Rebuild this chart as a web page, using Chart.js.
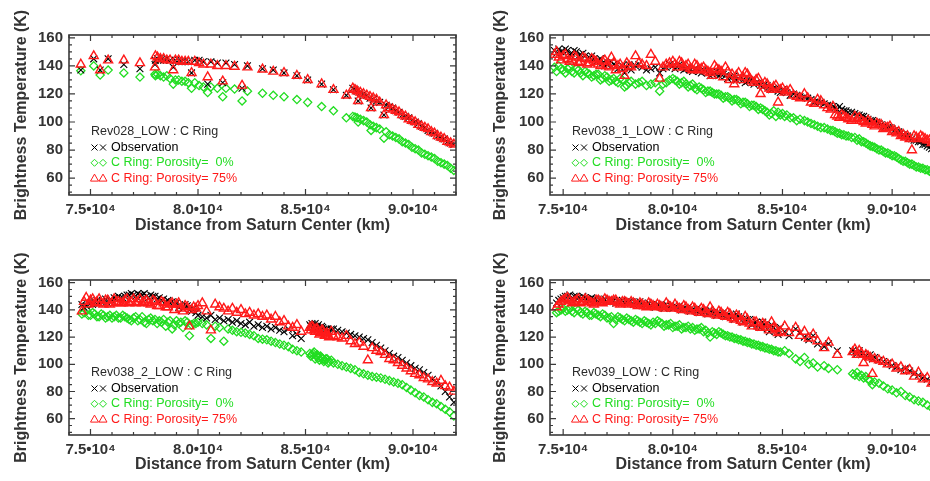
<!DOCTYPE html>
<html>
<head>
<meta charset="utf-8">
<script src="https://cdn.jsdelivr.net/npm/chart.js@4.4.1/dist/chart.umd.min.js"></script>
<style>
  html, body { margin: 0; padding: 0; background: #fff; overflow: hidden; width: 930px; height: 481px; }
  canvas { position: absolute; }
</style>
</head>
<body>
<canvas id="c1"></canvas>
<canvas id="c2"></canvas>
<canvas id="c3"></canvas>
<canvas id="c4"></canvas>
<script>
// axis ticks
const xMajor = [75000, 80000, 85000, 90000];
const xTickLabels = ['7.5•10⁴', '8.0•10⁴', '8.5•10⁴', '9.0•10⁴'];
const yMajor = [60, 80, 100, 120, 140, 160];
const seriesNames = ['Observation', 'C Ring: Porosity=  0%', 'C Ring: Porosity= 75%'];

// Rev028
const rev028X = [74550, 75150, 75450, 75820, 76550, 77300, 78000, 78020, 78120, 78250, 78400, 78550, 78700, 78850, 78950, 79100, 79250, 79400, 79550, 79700, 79850, 80050, 80250, 80450, 80600, 80900, 81150, 81300, 81700, 82050, 82300, 83000, 83500, 84000, 84600, 85100, 85750, 86300, 86900, 87200, 87300, 87400, 87450, 87550, 87700, 87850, 88000, 88050, 88150, 88300, 88450, 88650, 88750, 88900, 89050, 89200, 89350, 89500, 89650, 89800, 89950, 90100, 90250, 90400, 90550, 90700, 90850, 91000, 91150, 91300, 91450, 91600, 91750, 91900];
const rev028Obs = [137, 145, 137, 145, 141, 138, 141, 144, 145, 144, 144, 145, 144, 139, 144, 144, 143, 143, 143, 135, 144, 144, 143, 127, 143, 142, 128, 142, 141, 124, 140, 138, 137, 135, 133, 130, 127, 123, 119, 124, 123, 122, 115, 121, 120, 119, 117, 110, 116, 115, 114, 105, 112, 111, 110, 108, 107, 105, 104, 103, 101, 100, 99, 97, 96, 94, 93, 92, 90, 89, 88, 86, 85, 84];
const rev028P0 = [136.5, 140, 133.5, 137, 135, 132, 134, 133, 134, 133, 132, 133, 131, 127, 130, 130, 129, 129, 128, 124, 128, 126, 125, 121, 125, 124, 118, 124, 123.5, 115, 122, 120.5, 119, 118, 116, 114, 111, 108, 103, 104, 103.5, 103, 100, 102, 101, 100, 98, 94, 97, 96, 95, 88.5, 93, 91, 90, 89, 88, 86, 85, 84, 82, 81, 80, 78, 77, 76, 75, 74, 72, 71, 70, 69, 67, 65.5];
const rev028P75 = [141, 147, 137, 144, 144, 142, 139, 147, 146, 145, 145, 144, 144, 137, 144, 144, 143, 143, 143, 135, 143, 142, 141, 132, 141, 140, 129, 140, 139.5, 126, 139, 137.5, 136, 135, 133, 130, 127, 123, 119, 124, 123, 122, 115, 121, 120, 119, 118, 110, 117, 116, 114, 105, 112, 110, 109, 108, 107, 105, 104, 102, 101, 100, 98, 97, 96, 95, 93, 92, 90, 89, 88, 86, 85, 84];

// Rev038_1
const rev038aX = [74600, 74800, 75000, 75200, 75400, 75600, 75800, 76000, 76200, 76400, 76600, 76800, 77000, 77200, 77400, 77600, 77800, 78000, 78300, 78600, 79000, 79400, 79700, 80000, 80200, 80400, 80600, 80800, 81000, 81200, 81400, 81600, 81800, 82000, 82200, 82400, 82600, 82800, 83000, 83200, 83400, 83600, 83800, 84000, 84200, 84400, 84600, 84800, 85000, 85200, 85500, 85800, 86000, 86300, 86600, 86900, 87200, 87400, 87600, 87800, 88000, 88300, 88500, 88700, 88900, 89100, 89300, 89500, 89700, 89900, 90100, 90300, 90500, 90700, 90900, 91100, 91300, 91500, 91700, 91900,
  74700, 74900, 75100, 75300, 75500, 75700, 75900, 76100, 76300, 76500, 76700, 76900, 77100, 77300, 77500, 77700, 77900, 78100, 78450, 78800, 79200, 79550, 79850, 80100, 80300, 80500, 80700, 80900, 81100, 81300, 81500, 81700, 81900, 82100, 82300, 82500, 82700, 82900, 83100, 83300, 83500, 83700, 83900, 84100, 84300, 84500, 84700, 84900, 85100, 85350, 85650, 86150, 86450, 86750, 87050, 87300, 87500, 87700, 87900, 88150, 88400, 88600, 88800, 89000, 89200, 89400, 89600, 89800, 90000, 90200, 90400, 90600, 90800, 91000, 91200, 91400, 91600, 91800];
const rev038aObs = [151, 152, 150, 151, 149, 150, 148, 147, 146, 145, 144, 142, 141, 143, 140, 139, 135, 141, 140, 139, 138, 135, 139, 140, 139, 140, 138, 137, 138, 136, 137, 135, 134, 136, 134, 133, 132, 133, 131, 130, 129, 130, 128, 126, 127, 125, 124, 122, 123, 121, 120, 118, 118, 116, 115, 113, 112, 110, 111, 108, 107, 106, 105, 104, 102, 101, 100, 98, 97, 96, 94, 93, 91, 90, 88, 87, 86, 84, 82, 80,
  149, 150, 152, 148, 151, 147, 149, 145, 147, 143, 145, 140, 142, 141, 138, 140, 139, 137, 141, 137, 139, 138, 141, 138, 141, 137, 139, 136, 137, 135, 136, 133, 135, 133, 134, 131, 132, 130, 132, 128, 130, 127, 128, 125, 126, 123, 124, 121, 122, 119, 119, 117, 114, 114, 112, 111, 109, 109, 108, 107, 105, 104, 103, 101, 100, 99, 97, 96, 95, 93, 92, 90, 89, 87, 86, 84, 83, 81];
const rev038aP0 = [139, 140, 137, 138, 136, 138, 135, 136, 134, 133, 134, 131, 132, 130, 129, 131, 125, 128, 127, 129, 127, 122, 128, 131, 129, 128, 127, 126, 124, 125, 123, 122, 121, 120, 119, 118, 117, 116, 115, 114, 113, 112, 111, 110, 108, 105, 108, 107, 106, 105, 103, 102, 101, 99, 97, 96, 94, 93, 92, 91, 90, 89, 88, 86, 84, 82.5, 81, 80, 78, 77, 76, 74, 72, 71, 70, 68, 67, 66, 65, 64,
  136, 138, 135, 139, 135, 137, 133, 135, 132, 134, 130, 133, 129, 131, 128, 130, 126, 129, 128, 126, 128, 127, 130, 130, 127, 129, 125, 127, 123, 124, 121, 122, 120, 120, 117, 118, 115, 116, 113, 114, 111, 112, 109, 109, 107, 106, 104, 105, 104, 103, 101, 100, 98, 96, 95, 94, 92, 91, 90, 89, 87, 86, 85, 83, 82, 80, 79, 78, 76, 75, 73, 72, 70, 69, 68, 67, 66, 64];
const rev038aP75 = [148, 146, 147, 145, 144, 146, 143, 145, 142, 144, 141, 143, 140, 146, 137, 141, 133, 140, 147, 141, 148, 131, 141, 143, 139, 142, 140, 138, 141, 137, 139, 136, 133, 138, 136, 139, 130, 127, 135, 132, 134, 129, 130, 120, 128, 124, 125, 114, 124, 122, 119, 117, 120, 114, 116, 112, 109, 105, 103, 104, 102, 104, 103, 100, 101, 98, 99, 98, 96, 97, 94, 93, 91, 90, 80, 89, 90, 88, 87, 86,
  150, 144, 148, 143, 147, 142, 146, 141, 145, 143, 140, 144, 139, 142, 140, 138, 142, 139, 142, 140, 143, 139, 142, 141, 143, 139, 141, 137, 140, 138, 137, 135, 140, 137, 132, 136, 134, 133, 130, 135, 131, 128, 131, 126, 127, 123, 126, 123, 121, 123, 118, 117, 113, 115, 110, 111, 104, 105, 103, 101, 102, 101, 99, 100, 97, 98, 95, 96, 93, 92, 90, 89, 88, 90, 88, 89, 87, 85];

// Rev038_2
const rev038bX = [74600, 74800, 75000, 75200, 75400, 75600, 75800, 76000, 76200, 76400, 76600, 76800, 77000, 77200, 77400, 77600, 77800, 78000, 78200, 78400, 78600, 78800, 79000, 79200, 79400, 79600, 79800, 80000, 80200, 80400, 80600, 80800, 81000, 81200, 81400, 81600, 81800, 82000, 82200, 82400, 82600, 82800, 83000, 83200, 83400, 83600, 83800, 84000, 84200, 84400, 84600, 84800, 85200, 85300, 85400, 85500, 85600, 85700, 85800, 85900, 86000, 86100, 86300, 86500, 86700, 86900, 87100, 87300, 87500, 87700, 87900, 88100, 88300, 88500, 88700, 88900, 89100, 89300, 89500, 89700, 89900, 90100, 90300, 90500, 90700, 90900, 91100, 91300, 91500, 91700, 91900,
  74700, 74900, 75100, 75300, 75500, 75700, 75900, 76100, 76300, 76500, 76700, 76900, 77100, 77300, 77500, 77700, 77900, 78100, 78300, 78500, 78700, 78900, 79100, 79300, 79500, 79700, 79900, 85250, 85350, 85450, 85550, 85650, 85750, 85850, 85950, 86050, 86200];
const rev038bObs = [144, 143, 145, 146, 145, 146, 145, 147, 148, 149, 150, 151, 151, 152, 151, 150, 151, 150, 149, 148, 147, 146, 145, 143, 144, 140, 141, 136, 135, 134, 136, 133, 134, 132, 133, 131, 132, 130, 129, 131, 128, 129, 127, 128, 126, 127, 125, 124, 126, 121, 122, 119, 129, 130, 128, 127, 129, 126, 127, 125, 126, 124, 126, 125, 124, 123, 122, 121, 120, 119, 118, 116, 114, 112, 110, 108, 106, 105, 103, 101, 99, 97, 96, 94, 92, 89, 87, 84, 80, 76, 72,
  142, 145, 144, 147, 146, 148, 147, 149, 150, 149, 151, 152, 150, 151, 152, 149, 150, 148, 147, 146, 145, 144, 142, 141, 143, 139, 138, 128, 127, 130, 128, 127, 128, 126, 126, 125, 126];
const rev038bP0 = [137, 140, 136, 137, 135, 136, 135, 134, 136, 134, 135, 133, 134, 132, 135, 130, 134, 133, 132, 133, 131, 126, 132, 131, 132, 121, 130, 131, 130, 129, 119, 128, 127, 117, 126, 125, 124, 123.5, 123, 122, 121, 119, 118.5, 118, 117, 116, 115, 114, 113, 111, 110, 109, 108, 107, 109, 106, 105, 106, 104, 103, 104, 102, 101, 100, 99, 98, 97, 96, 94, 93, 92, 91, 90.5, 90, 89, 88, 87, 86, 85, 83, 81, 79, 77, 76, 74, 72, 71, 69, 67, 65, 62,
  138, 136, 138, 135, 137, 134, 136, 135, 134, 136, 134, 132, 135, 133, 131, 133, 132, 130, 131, 128, 132, 129, 130, 127, 131, 129, 130, 106, 108, 104, 107, 103, 105, 102, 104, 101, 103];
const rev038bP75 = [139, 149, 147, 145, 148, 144, 147, 145, 146, 145, 147, 145, 148, 146, 145, 147, 144, 146, 143, 145, 142, 145, 144, 141, 143, 128, 142, 143, 145, 139, 125, 144, 142, 141, 139, 141, 138, 140, 137, 138, 136, 137, 135, 136, 133, 135, 131, 132, 128, 127, 129, 124, 127, 128, 125, 126, 124, 123, 125, 121, 123, 120, 121, 120, 119, 121, 117, 115, 116, 113, 103, 112, 110, 109, 107, 104, 103, 101, 99, 97, 95, 93, 92, 90, 89, 87, 86, 88, 84, 83, 80,
  146, 144, 148, 146, 145, 147, 144, 148, 146, 145, 148, 146, 145, 148, 146, 145, 147, 143, 146, 142, 144, 140, 145, 139, 142, 140, 141, 125, 127, 124, 126, 122, 125, 123, 122, 121, 124];

// Rev039
const rev039X = [74700, 74900, 75100, 75300, 75500, 75700, 75900, 76100, 76300, 76500, 76700, 76900, 77100, 77300, 77500, 77700, 77900, 78100, 78300, 78500, 78700, 78900, 79100, 79300, 79500, 79700, 79900, 80100, 80300, 80500, 80700, 80900, 81100, 81300, 81500, 81700, 81900, 82100, 82300, 82500, 82700, 82900, 83100, 83300, 83500, 83700, 83900, 84100, 84300, 84500, 84700, 84900, 85100, 85300, 85600, 85800, 86000, 86200, 86400, 86600, 86900, 87100, 87500, 88200, 88300, 88400, 88500, 88600, 88700, 88800, 88900, 89000, 89100, 89200, 89400, 89600, 89800, 90000, 90200, 90400, 90600, 90800, 91000, 91200, 91400, 91600, 91800, 91900,
  74800, 75000, 75200, 75400, 75600, 75800, 76000, 76200, 76400, 76600, 76800, 77000, 77200, 77400, 77600, 77800, 78000, 78200, 78400, 78600, 78800, 79000, 79200, 79400, 79600, 79800, 80000, 80200, 80400, 80600, 80800, 81000, 81200, 81400, 81600, 81800, 82000, 82200, 82400, 82600, 82800, 83000, 83200, 83400, 83600, 83800, 84000, 84200, 84400, 84600, 84800];
const rev039Obs = [145, 148, 150, 151, 150, 149, 150, 148, 149, 148, 147, 148, 147, 147, 146, 147, 146, 146, 145, 146, 144, 145, 144, 144, 143, 144, 143, 142, 143, 141, 142, 140, 141, 140, 139, 140, 138, 137, 138, 136, 135, 137, 134, 132, 133, 130, 128, 131, 126, 129, 125, 127, 124, 121, 126, 123, 120, 118, 121, 115, 113, 115, 110, 110, 109, 108, 110, 107, 108, 106, 105, 107, 104, 105, 103, 102, 101, 99, 98, 96, 97, 95, 93, 92, 90, 89, 87, 86,
  147, 149, 150, 148, 150, 148, 149, 147, 148, 146, 147, 146, 147, 145, 146, 145, 146, 144, 145, 143, 144, 143, 142, 143, 141, 142, 141, 142, 140, 141, 139, 140, 138, 139, 137, 138, 136, 137, 135, 136, 133, 135, 131, 133, 129, 131, 127, 129, 124, 127, 122];
const rev039P0 = [138, 140, 139, 141, 138, 140, 137, 138, 136, 137, 135, 136, 134, 130, 135, 133, 134, 132, 133, 131, 132, 130, 131, 132, 130, 129, 130, 128, 129, 127, 128, 127, 126, 127, 125, 120, 123, 124, 122, 121, 120, 119, 118, 117, 116, 115, 114, 113, 112, 111, 110, 109, 110, 108, 104, 102, 105, 100, 101, 98, 99, 97, 96, 93, 92, 94, 91, 92, 90, 91, 89, 88, 85, 87, 86, 84, 82, 81, 79, 80, 77, 76, 74, 73, 72, 70, 68, 67,
  139, 141, 140, 139, 141, 138, 139, 136, 138, 136, 137, 134, 135, 133, 134, 132, 133, 131, 132, 130, 131, 129, 130, 131, 128, 129, 127, 128, 126, 127, 126, 125, 126, 124, 123, 124, 122, 123, 121, 120, 119, 118, 117, 116, 115, 114, 113, 112, 111, 110, 109];
const rev039P75 = [142, 146, 148, 147, 146, 148, 146, 147, 145, 147, 146, 148, 146, 147, 145, 146, 145, 146, 144, 145, 143, 145, 143, 144, 142, 145, 142, 144, 141, 143, 140, 142, 139, 141, 138, 142, 137, 139, 136, 138, 134, 136, 132, 135, 130, 131, 128, 130, 127, 131, 126, 124, 128, 123, 127, 121, 124, 119, 122, 117, 112, 116, 107, 109, 111, 107, 110, 108, 101, 107, 106, 105, 93, 104, 103, 102, 100, 100, 97, 98, 95, 96, 91, 94, 89, 90, 86, 88,
  144, 147, 149, 145, 147, 145, 148, 146, 144, 147, 145, 147, 146, 147, 144, 146, 144, 145, 143, 144, 142, 144, 142, 143, 141, 143, 141, 142, 140, 142, 139, 141, 138, 140, 137, 139, 136, 138, 135, 137, 133, 135, 131, 133, 128, 131, 127, 129, 125, 127, 123];

const axisColor = '#3a3a3a';
const fontFamily = '"Liberation Sans", Arial, Helvetica, sans-serif';
const obsColor = '#000000';
const p0Color = '#22dd22';
const p75Color = '#ff1a1a';

const panels = [
  { id: 'c1', left: 0, top: 0, width: 465, height: 240, padTop: 35, padRight: 9, yWidth: 69, xHeight: 45, xMin: 74000,
    name: 'Rev028_LOW : C Ring', x: rev028X, obs: rev028Obs, p0: rev028P0, p75: rev028P75, legendX: 91, legendY: 131.5, yTitlePad: 12, xTitlePad: 5 },
  { id: 'c2', left: 465, top: 0, width: 480, height: 240, padTop: 35, padRight: 9, yWidth: 85, xHeight: 45, xMin: 74400,
    name: 'Rev038_1_LOW : C Ring', x: rev038aX, obs: rev038aObs, p0: rev038aP0, p75: rev038aP75, legendX: 107, legendY: 131.5, yTitlePad: 26, xTitlePad: 5 },
  { id: 'c3', left: 0, top: 240, width: 465, height: 241, padTop: 40, padRight: 9, yWidth: 69, xHeight: 46, xMin: 74000,
    name: 'Rev038_2_LOW : C Ring', x: rev038bX, obs: rev038bObs, p0: rev038bP0, p75: rev038bP75, legendX: 91, legendY: 132.5, yTitlePad: 12, xTitlePad: 7 },
  { id: 'c4', left: 465, top: 240, width: 480, height: 241, padTop: 40, padRight: 9, yWidth: 85, xHeight: 46, xMin: 74400,
    name: 'Rev039_LOW : C Ring', x: rev039X, obs: rev039Obs, p0: rev039P0, p75: rev039P75, legendX: 107, legendY: 132.5, yTitlePad: 26, xTitlePad: 7 }
];

function drawMarker(ctx, style, x, y) {
  ctx.beginPath();
  if (style === 'cross') {
    ctx.moveTo(x - 3, y - 3); ctx.lineTo(x + 3, y + 3);
    ctx.moveTo(x + 3, y - 3); ctx.lineTo(x - 3, y + 3);
  } else if (style === 'diamond') {
    ctx.moveTo(x, y - 3.5); ctx.lineTo(x + 3.5, y); ctx.lineTo(x, y + 3.5); ctx.lineTo(x - 3.5, y); ctx.closePath();
  } else {
    ctx.moveTo(x, y - 4); ctx.lineTo(x + 4, y + 3); ctx.lineTo(x - 4, y + 3); ctx.closePath();
  }
  ctx.stroke();
}

// frame with inward ticks, plus the text legend in the lower left of each panel
const framePlugin = {
  id: 'frame',
  afterDatasetsDraw(chart) {
    const { ctx, chartArea: a, scales: { x, y } } = chart;
    const p = chart.options.plugins.frame;
    ctx.save();
    ctx.strokeStyle = axisColor;
    ctx.lineWidth = 1.6;
    ctx.strokeRect(a.left, a.top, a.right - a.left, a.bottom - a.top);
    ctx.lineWidth = 1.2;
    ctx.beginPath();
    for (let v = Math.ceil(x.min / 1000) * 1000; v <= x.max; v += 1000) {
      const px = x.getPixelForValue(v);
      const len = v % 5000 === 0 ? 6 : 3;
      ctx.moveTo(px, a.bottom); ctx.lineTo(px, a.bottom - len);
      ctx.moveTo(px, a.top); ctx.lineTo(px, a.top + len);
    }
    for (let v = Math.ceil(y.min / 5) * 5; v <= y.max; v += 5) {
      const py = y.getPixelForValue(v);
      const len = v % 20 === 0 ? 6 : 3;
      ctx.moveTo(a.left, py); ctx.lineTo(a.left + len, py);
      ctx.moveTo(a.right, py); ctx.lineTo(a.right - len, py);
    }
    ctx.stroke();

    const lx = p.legendX, ly = p.legendY;
    ctx.font = '12.5px ' + fontFamily;
    ctx.textBaseline = 'middle';
    ctx.fillStyle = '#2a2a2a';
    ctx.fillText(p.name, lx, ly);
    const rows = [
      { style: 'cross', color: obsColor, text: seriesNames[0] },
      { style: 'diamond', color: p0Color, text: seriesNames[1] },
      { style: 'triangle', color: p75Color, text: seriesNames[2] }
    ];
    rows.forEach((r, i) => {
      const yy = ly + 16 + i * 15.3;
      ctx.strokeStyle = r.color;
      ctx.lineWidth = 1;
      drawMarker(ctx, r.style, lx + 3.5, yy);
      drawMarker(ctx, r.style, lx + 12, yy);
      ctx.fillStyle = r.color;
      ctx.fillText(r.text, lx + 20, yy);
    });
    ctx.restore();
  }
};

panels.forEach(p => {
  const canvas = document.getElementById(p.id);
  canvas.width = p.width;
  canvas.height = p.height;
  canvas.style.left = p.left + 'px';
  canvas.style.top = p.top + 'px';
  canvas.style.width = p.width + 'px';
  canvas.style.height = p.height + 'px';

  const pts = arr => p.x.map((v, i) => ({ x: v, y: arr[i] }));

  // first dataset is drawn on top: red, then black, then green underneath
  new Chart(canvas, {
    type: 'scatter',
    data: {
      datasets: [
        { label: seriesNames[2], data: pts(p.p75), pointStyle: 'triangle', pointRadius: 5.2,
          pointBorderColor: p75Color, pointBackgroundColor: 'rgba(0,0,0,0)', pointBorderWidth: 1.4 },
        { label: seriesNames[0], data: pts(p.obs), pointStyle: 'crossRot', pointRadius: 4.8,
          pointBorderColor: obsColor, pointBackgroundColor: 'rgba(0,0,0,0)', pointBorderWidth: 1.1 },
        { label: seriesNames[1], data: pts(p.p0), pointStyle: 'rectRot', pointRadius: 4.1,
          pointBorderColor: p0Color, pointBackgroundColor: 'rgba(0,0,0,0)', pointBorderWidth: 1.3 }
      ]
    },
    options: {
      responsive: false,
      animation: false,
      devicePixelRatio: 1,
      layout: { padding: { top: p.padTop, right: p.padRight, left: 0, bottom: 0 } },
      plugins: {
        legend: { display: false },
        tooltip: { enabled: false },
        frame: { legendX: p.legendX, legendY: p.legendY, name: p.name }
      },
      scales: {
        x: {
          type: 'linear',
          min: p.xMin,
          max: 92000,
          afterBuildTicks: axis => { axis.ticks = xMajor.map(v => ({ value: v })); },
          afterFit: axis => { axis.height = p.xHeight; },
          ticks: {
            autoSkip: false, maxRotation: 0, padding: 6, color: '#333333',
            font: { family: fontFamily, size: 15, weight: 'bold' },
            callback: v => xTickLabels[xMajor.indexOf(v)]
          },
          grid: { display: false, drawTicks: false },
          border: { display: false },
          title: {
            display: true, text: 'Distance from Saturn Center (km)', color: '#333333',
            font: { family: fontFamily, size: 16, weight: 'bold' },
            padding: { top: 0, bottom: p.xTitlePad }
          }
        },
        y: {
          type: 'linear',
          min: 48,
          max: 162,
          afterBuildTicks: axis => { axis.ticks = yMajor.map(v => ({ value: v })); },
          afterFit: axis => { axis.width = p.yWidth; },
          ticks: {
            padding: 6, color: '#333333',
            font: { family: fontFamily, size: 15, weight: 'bold' }
          },
          grid: { display: false, drawTicks: false },
          border: { display: false },
          title: {
            display: true, text: 'Brightness Temperature (K)', color: '#333333',
            font: { family: fontFamily, size: 16, weight: 'bold' },
            padding: { top: p.yTitlePad, bottom: 0 }
          }
        }
      }
    },
    plugins: [framePlugin]
  });
});
</script>
</body>
</html>
